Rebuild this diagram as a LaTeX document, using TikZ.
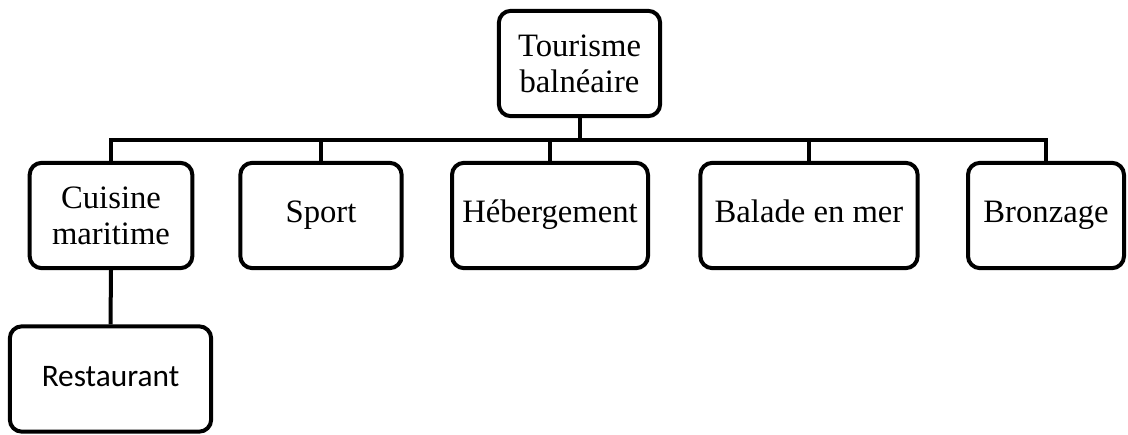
\documentclass[tikz,border=0pt]{standalone}
\usepackage{fontspec}
\setmainfont{Liberation Serif}
\newfontfamily\calibrifont{Carlito}
\usetikzlibrary{positioning}

\begin{document}
\begin{tikzpicture}[
  x=0.75pt, y=-0.75pt,
  font=\fontsize{24.5}{27}\selectfont,
  box/.style  ={draw,line width=3pt,rounded corners=9pt,align=center,
                minimum height=79pt,inner sep=2pt},
  oneline/.style={text height=16pt,text depth=5pt},
  sbox/.style ={box,oneline,font=\calibrifont\fontsize{23.5}{27}\selectfont},
  link/.style ={line width=3pt}]

\useasboundingbox (0,0) rectangle (1128,435);

% ---------- Root ----------
\node[box, minimum width=121pt] (root) at (579.5,63.5) {Tourisme\\balnéaire};

% ---------- Level 1 ----------
\node[box, minimum width=122pt]          (cuis)  at (111,215.5)  {Cuisine\\maritime};
\node[box, oneline, minimum width=121pt] (sport) at (321,215.5)  {Sport};
\node[box, oneline, minimum width=147pt] (heb)   at (550,215.5)  {Hébergement};
\node[box, oneline, minimum width=163pt] (bal)   at (809,215.5)  {Balade en mer};
\node[box, oneline, minimum width=117pt] (bronz) at (1046,215.5) {Bronzage};

% ---------- Level 2 ----------
\node[sbox, minimum width=151pt] (resto) at (110.5,379) {Restaurant};

% ---------- Connectors ----------
\coordinate (bus) at (579.5,140);
\draw[link] (root.south) -- (bus);
\draw[link] (cuis.north) |- (bus) -| (bronz.north);
\foreach \n in {sport,heb,bal}
  \draw[link] (\n.north) -- (\n.north |- bus);
\draw[link] (cuis.south) -- (resto.north);

\end{tikzpicture}
\end{document}
